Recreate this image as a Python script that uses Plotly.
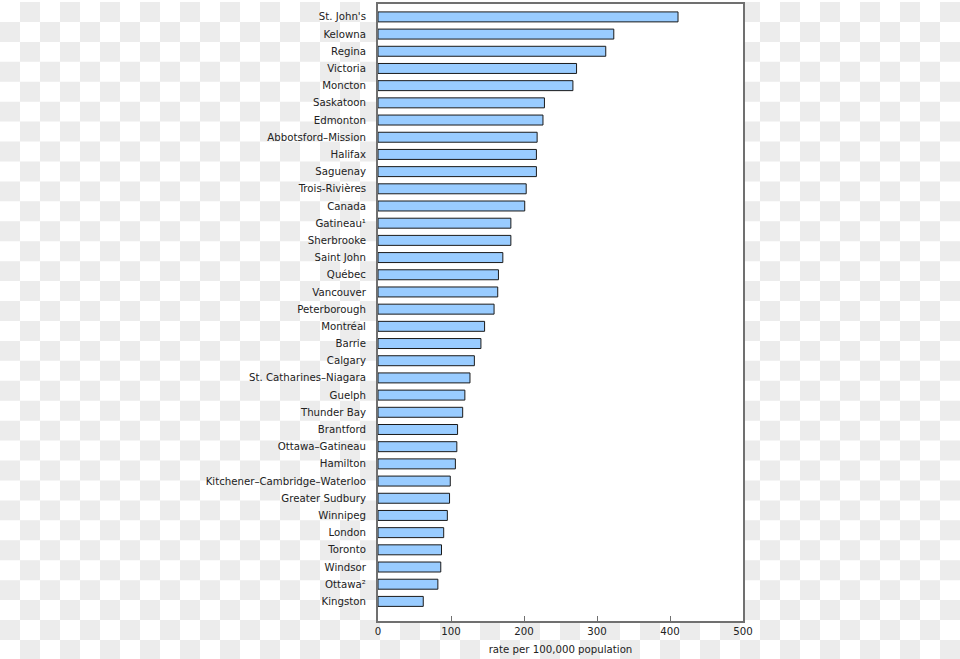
import plotly.graph_objects as go

cities = ["St. John's", "Kelowna", "Regina", "Victoria", "Moncton", "Saskatoon",
          "Edmonton", "Abbotsford–Mission", "Halifax", "Saguenay", "Trois-Rivières",
          "Canada", "Gatineau¹", "Sherbrooke", "Saint John", "Québec", "Vancouver",
          "Peterborough", "Montréal", "Barrie", "Calgary", "St. Catharines–Niagara",
          "Guelph", "Thunder Bay", "Brantford", "Ottawa–Gatineau", "Hamilton",
          "Kitchener–Cambridge–Waterloo", "Greater Sudbury", "Winnipeg", "London",
          "Toronto", "Windsor", "Ottawa²", "Kingston"]
rates = [411, 323, 312, 272, 267, 228, 226, 218, 217, 217, 203, 201, 182, 182,
         171, 165, 164, 159, 146, 141, 132, 126, 119, 116, 109, 108, 106, 99,
         98, 95, 90, 87, 86, 82, 62]
x_ticks = [0, 100, 200, 300, 400, 500]
x_title = "rate per 100,000 population"

W, H = 960, 659
L, R, T, B = 378, 217, 2, 38
pw, ph = W - L - R, H - T - B

def px(x):
    return (x - L) / pw

def py(y):
    return (H - B - y) / ph

# checkerboard background (transparency pattern)
sq = 20
parts = []
for j in range(0, (H // sq) + 1):
    for i in range(0, (W // sq) + 1):
        if (i + j) % 2 == 1:
            x0, x1 = i * sq, min((i + 1) * sq, W)
            y0, y1 = j * sq, min((j + 1) * sq, H)
            parts.append(f"M{px(x0):.5f},{py(y0):.5f}L{px(x1):.5f},{py(y0):.5f}"
                         f"L{px(x1):.5f},{py(y1):.5f}L{px(x0):.5f},{py(y1):.5f}Z")
shapes = [
    dict(type="path", xref="paper", yref="paper", path="".join(parts),
         fillcolor="#ececec", line=dict(width=0), layer="below"),
    dict(type="rect", xref="paper", yref="paper", x0=0, x1=1, y0=0, y1=1,
         fillcolor="white", line=dict(width=0), layer="below"),
]

n = len(cities)
fig = go.Figure(go.Bar(
    x=rates, y=cities, orientation="h", width=0.58,
    marker=dict(color="#99ccff", line=dict(color="#1a1a1a", width=1)),
    hoverinfo="skip",
))

fig.update_layout(
    width=W, height=H,
    margin=dict(l=L, r=R, t=T, b=B, pad=0),
    paper_bgcolor="white", plot_bgcolor="white",
    font=dict(family="DejaVu Sans", size=10.2, color="#222222"),
    showlegend=False,
    shapes=shapes,
    xaxis=dict(range=[0, 500], tickvals=x_ticks, ticktext=[str(v) for v in x_ticks],
               showgrid=False, zeroline=False,
               showline=True, linecolor="#707070", linewidth=2, mirror=True,
               ticks="inside", ticklen=5, tickwidth=1, tickcolor="#707070",
               tickfont=dict(size=10.2),
               title=dict(text=x_title, font=dict(size=10.2), standoff=10)),
    yaxis=dict(categoryorder="array", categoryarray=cities,
               range=[n - 1 + 1.14, -0.75],
               showgrid=False, zeroline=False,
               showline=True, linecolor="#707070", linewidth=2, mirror=True,
               ticks="", ticklabelstandoff=8, tickfont=dict(size=10.2)),
)

fig.write_html("out.html", config={"displayModeBar": False, "staticPlot": True},
               post_script="document.body.style.margin='0';document.body.style.overflow='hidden';")
